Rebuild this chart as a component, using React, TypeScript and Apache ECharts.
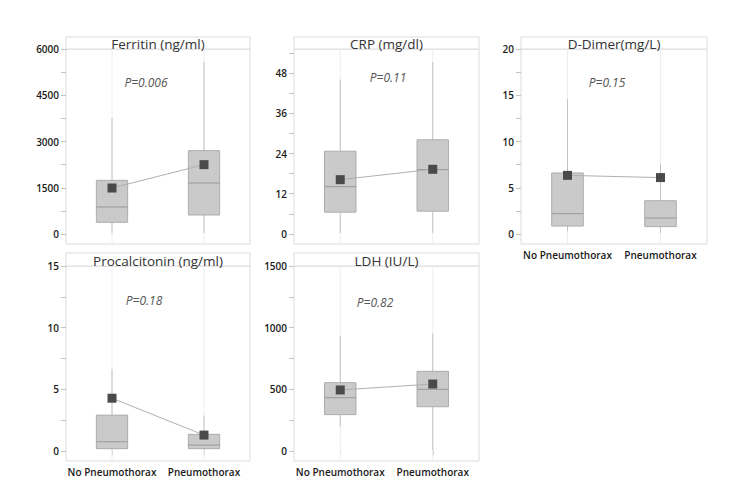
import React, { useEffect, useRef } from "react";
import * as echarts from "echarts";

const categories = ["No Pneumothorax", "Pneumothorax"];

// [min, Q1, median, Q3, max] per category
const ferritinBox = [
  [30, 378, 876, 1740, 3762],
  [30, 616, 1654, 2703, 5578],
];
const ferritinMean = [1492, 2249];

const crpBox = [
  [0.3, 6.5, 14.1, 24.7, 46.1],
  [0.3, 6.8, 19.2, 28.1, 51.3],
];
const crpMean = [16.2, 19.3];

const dimerBox = [
  [0.3, 0.86, 2.2, 6.6, 14.6],
  [0.1, 0.8, 1.73, 3.6, 7.6],
];
const dimerMean = [6.34, 6.1];

const pctBox = [
  [0.05, 0.19, 0.75, 2.91, 6.65],
  [0.05, 0.19, 0.48, 1.35, 2.88],
];
const pctMean = [4.28, 1.29];

const ldhBox = [
  [195, 295, 432, 554, 932],
  [5, 359, 500, 646, 951],
];
const ldhMean = [495, 543];

const ferritinTicks = [0, 1500, 3000, 4500, 6000];
const crpTicks = [0, 12, 24, 36, 48];
const dimerTicks = [0, 5, 10, 15, 20];
const pctTicks = [0, 5, 10, 15];
const ldhTicks = [0, 500, 1000, 1500];

const titles = ["Ferritin (ng/ml)", "CRP (mg/dl)", "D-Dimer(mg/L)", "Procalcitonin (ng/ml)", "LDH (IU/L)"];
const pValues = ["P=0.006", "P=0.11", "P=0.15", "P=0.18", "P=0.82"];

const FONT = "'Open Sans', 'Noto Sans', sans-serif";

type Panel = {
  title: string;
  p: string;
  box: number[][];
  mean: number[];
  ticks: number[];
  min: number;
  max: number;
  left: number;
  top: number;
  width: number;
  height: number;
  stripTop: number;
  pX: number;
  pY: number;
  showX: boolean;
};

function minorTicks(t: number[]): number[] {
  const out: number[] = [];
  const step = t[1] - t[0];
  for (let i = 0; i < t.length; i++) {
    out.push(t[i]);
    out.push(t[i] + step / 2);
  }
  return out;
}

export default function App() {
  const ref = useRef<HTMLDivElement>(null);
  useEffect(() => {
    if (!ref.current) return;
    const chart = echarts.init(ref.current, null, { renderer: "svg" });

    const panels: Panel[] = [
      { title: titles[0], p: pValues[0], box: ferritinBox, mean: ferritinMean, ticks: ferritinTicks, min: -324, max: 6000,
        left: 66, top: 49, width: 184, height: 195, stripTop: 37, pX: 146, pY: 82.5, showX: false },
      { title: titles[1], p: pValues[1], box: crpBox, mean: crpMean, ticks: crpTicks, min: -3, max: 55.2,
        left: 294, top: 49, width: 185, height: 195, stripTop: 37, pX: 388, pY: 77.5, showX: false },
      { title: titles[2], p: pValues[2], box: dimerBox, mean: dimerMean, ticks: dimerTicks, min: -1.08, max: 20,
        left: 521, top: 49, width: 186, height: 195, stripTop: 37, pX: 607, pY: 82.5, showX: true },
      { title: titles[3], p: pValues[3], box: pctBox, mean: pctMean, ticks: pctTicks, min: -0.81, max: 15,
        left: 66, top: 266, width: 184, height: 195, stripTop: 253, pX: 144, pY: 300.5, showX: true },
      { title: titles[4], p: pValues[4], box: ldhBox, mean: ldhMean, ticks: ldhTicks, min: -81, max: 1500,
        left: 294, top: 266, width: 185, height: 195, stripTop: 253, pX: 375, pY: 302, showX: true },
    ];

    const grid: any[] = [];
    const xAxis: any[] = [];
    const yAxis: any[] = [];
    const series: any[] = [];
    const graphic: any[] = [];

    panels.forEach((pn, i) => {
      grid.push({
        left: pn.left, top: pn.top, width: pn.width, height: pn.height,
        show: true, borderColor: "#dcdcdc", borderWidth: 1, backgroundColor: "#fff",
      });
      xAxis.push({
        type: "category", gridIndex: i, data: categories, boundaryGap: true,
        axisLine: { show: false },
        axisTick: { show: pn.showX, alignWithLabel: true, length: 4, lineStyle: { color: "#c4c4c4" } },
        axisLabel: { show: pn.showX, interval: 0, hideOverlap: false, margin: 6, color: "#1a1a1a", fontFamily: FONT, fontSize: 10, fontWeight: 600 },
        splitLine: { show: false },
      });
      yAxis.push({
        type: "value", gridIndex: i, min: pn.min, max: pn.max,
        axisLine: { show: false },
        axisTick: { show: true, length: 5, lineStyle: { color: "#c4c4c4" }, customValues: minorTicks(pn.ticks).filter((v) => v <= pn.max) },
        axisLabel: {
          margin: 7, color: "#1a1a1a", fontFamily: FONT, fontSize: 10, fontWeight: 600,
          customValues: pn.ticks, formatter: (v: number) => String(v),
        },
        splitLine: { show: false },
      });
      series.push({
        type: "custom", xAxisIndex: i, yAxisIndex: i,
        data: pn.box.map((b, k) => [k, ...b]),
        encode: { x: 0, y: [1, 2, 3, 4, 5] },
        renderItem: (params: any, api: any) => {
          const cat = api.value(0);
          const cs = params.coordSys;
          const x = api.coord([cat, 0])[0];
          const yMin = api.coord([cat, api.value(1)])[1];
          const yQ1 = api.coord([cat, api.value(2)])[1];
          const yMed = api.coord([cat, api.value(3)])[1];
          const yQ3 = api.coord([cat, api.value(4)])[1];
          const yMax = api.coord([cat, api.value(5)])[1];
          const half = api.size([1, 0])[0] * 0.17;
          return {
            type: "group",
            children: [
              { type: "line", shape: { x1: x, y1: cs.y, x2: x, y2: cs.y + cs.height }, style: { stroke: "#eeeeee", lineWidth: 1 } },
              { type: "line", shape: { x1: x, y1: yMin, x2: x, y2: yMax }, style: { stroke: "#c2c2c2", lineWidth: 1 } },
              { type: "rect", shape: { x: x - half, y: yQ3, width: half * 2, height: yQ1 - yQ3 }, style: { fill: "#cacaca", stroke: "#adadad", lineWidth: 1 } },
              { type: "line", shape: { x1: x - half, y1: yMed, x2: x + half, y2: yMed }, style: { stroke: "#999999", lineWidth: 1 } },
            ],
          };
        },
        z: 2,
      });
      series.push({
        type: "line", xAxisIndex: i, yAxisIndex: i, data: pn.mean,
        symbol: "rect", symbolSize: 9, showSymbol: true,
        itemStyle: { color: "#4a4a4a" },
        lineStyle: { color: "#b0b0b0", width: 1 },
        z: 3,
      });
      graphic.push({
        type: "rect", shape: { x: pn.left, y: pn.stripTop, width: pn.width, height: pn.top - pn.stripTop },
        style: { fill: "#fff", stroke: "#dcdcdc", lineWidth: 1 }, z: 1,
      });
      graphic.push({
        type: "text", x: pn.left + pn.width / 2, y: pn.top - 5.5,
        style: { text: pn.title, fill: "#333", font: `13.5px ${FONT}`, align: "center", verticalAlign: "middle" }, z: 2,
      });
      graphic.push({
        type: "text", x: pn.pX, y: pn.pY,
        style: { text: pn.p, fill: "#555", font: `italic 12px ${FONT}`, align: "center", verticalAlign: "middle" }, z: 2,
      });
    });

    chart.setOption({
      animation: false,
      backgroundColor: "#fff",
      grid, xAxis, yAxis, series, graphic,
    });
    return () => chart.dispose();
  }, []);

  return <div ref={ref} style={{ position: "fixed", left: 0, top: 0, width: 740, height: 494 }} />;
}
